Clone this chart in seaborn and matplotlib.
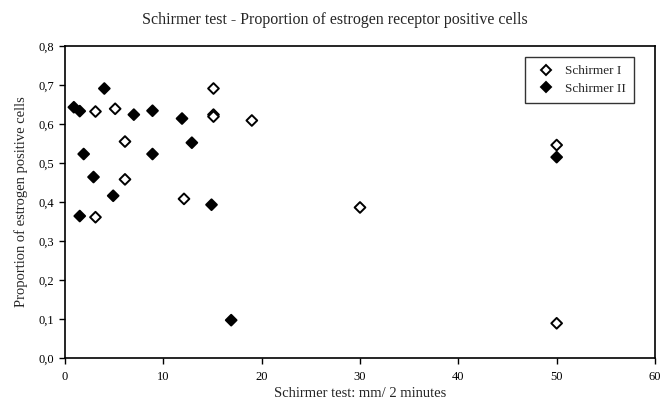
import matplotlib
matplotlib.use("Agg")
import matplotlib.pyplot as plt
import seaborn as sns
import pandas as pd
from matplotlib.ticker import FuncFormatter, MultipleLocator

# Schirmer I (open diamonds)
s1_x = [3.1, 5.1, 15.1, 15.1, 15.1, 19.0, 6.1, 6.1, 12.1, 3.1, 30.0, 50.0, 50.0]
s1_y = [0.632, 0.639, 0.691, 0.624, 0.619, 0.609, 0.555, 0.458, 0.408, 0.361, 0.386, 0.546, 0.089]
# Schirmer II (filled diamonds)
s2_x = [0.9, 1.5, 4.0, 7.0, 8.9, 11.9, 12.9, 1.9, 8.9, 2.9, 4.9, 14.9, 1.5, 16.9, 50.0]
s2_y = [0.643, 0.633, 0.691, 0.624, 0.634, 0.614, 0.552, 0.523, 0.523, 0.464, 0.416, 0.393, 0.364, 0.097, 0.515]

series_names = ["Schirmer I", "Schirmer II"]
title = "Schirmer test - Proportion of estrogen receptor positive cells"
xlabel = "Schirmer test: mm/ 2 minutes"
ylabel = "Proportion of estrogen positive cells"

df = pd.DataFrame({
    "x": s1_x + s2_x,
    "y": s1_y + s2_y,
    "series": [series_names[0]] * len(s1_x) + [series_names[1]] * len(s2_x),
})

sns.set_style("white")
plt.rcParams["font.family"] = ["Liberation Serif", "DejaVu Serif"]

fig = plt.figure(figsize=(6.69, 4.01), dpi=100)
ax = fig.add_axes([65 / 669, 1 - 358 / 401, (655 - 65) / 669, (358 - 46) / 401])

sns.scatterplot(
    data=df, x="x", y="y", hue="series", style="series",
    palette={series_names[0]: "white", series_names[1]: "black"},
    markers={series_names[0]: "D", series_names[1]: "D"},
    s=30, edgecolor="black", linewidth=1.4, ax=ax, zorder=3,
)

ax.set_xlim(0, 60)
ax.set_ylim(0, 0.8)
ax.xaxis.set_major_locator(MultipleLocator(10))
ax.yaxis.set_major_locator(MultipleLocator(0.1))
ax.yaxis.set_major_formatter(FuncFormatter(lambda v, p: f"{v:.1f}".replace(".", ",")))
ax.tick_params(axis="both", which="major", direction="out", length=4, width=1,
               labelsize=9, color="black", labelcolor="black", bottom=True, left=True)
ax.tick_params(axis="x", pad=5)
for sp in ax.spines.values():
    sp.set_visible(True)
    sp.set_color("black")
    sp.set_linewidth(1.2)

ax.set_xlabel(xlabel, fontsize=10.5, labelpad=3)
ax.set_ylabel(ylabel, fontsize=10.5, labelpad=8)
fig.suptitle(title, fontsize=11.5, y=0.97)

leg = ax.legend(loc="upper right", bbox_to_anchor=(0.975, 0.985), frameon=True,
                fancybox=False, edgecolor="black", fontsize=9.5, borderpad=0.6,
                handletextpad=0.4, labelspacing=0.4, title=None)
leg.get_frame().set_linewidth(1.0)

fig.savefig("out.png", dpi=100, facecolor="white")
